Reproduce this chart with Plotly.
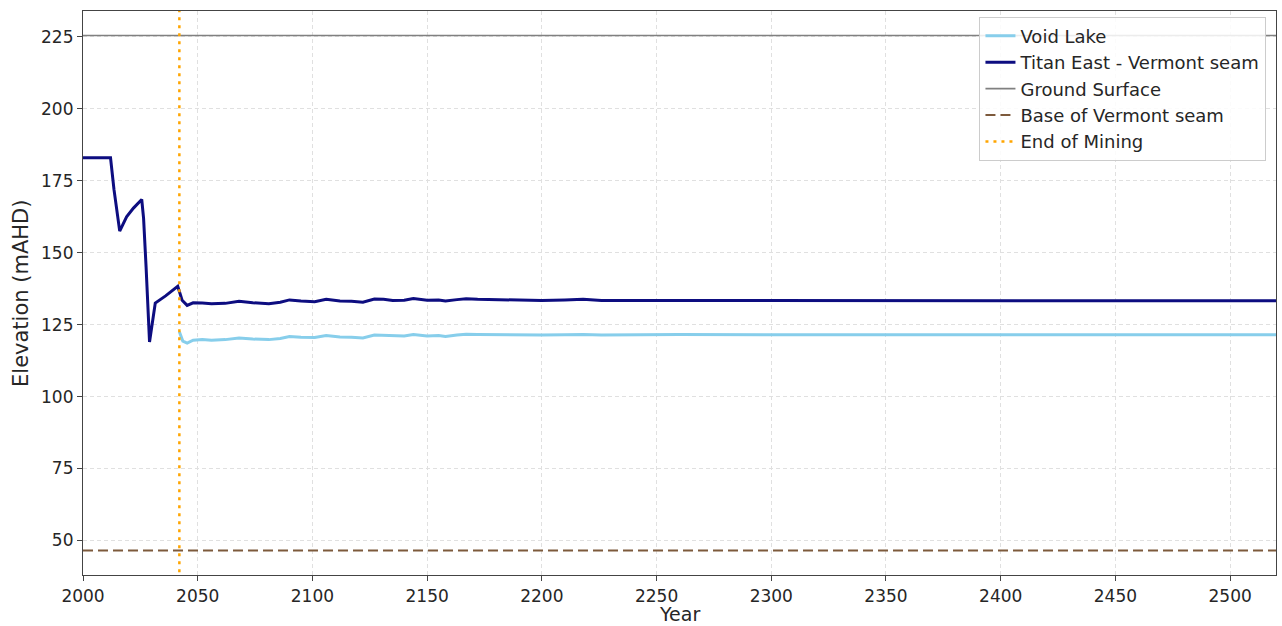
import plotly.graph_objects as go

# ---- data ----
titan_years = [2000, 2012, 2013.5, 2016, 2019, 2022, 2025.6, 2026.4, 2027.5, 2029, 2031.5, 2036, 2041.3,
               2043.2, 2045.4, 2048, 2052, 2056, 2062, 2068, 2074, 2081, 2086, 2090, 2095, 2101, 2106,
               2112, 2117, 2122, 2127, 2131, 2135, 2140, 2144, 2150, 2155, 2158, 2163, 2167, 2172, 2180,
               2190, 2200, 2210, 2218, 2226, 2240, 2260, 2300, 2350, 2400, 2450, 2500, 2520]
titan_vals = [183, 183, 172, 157.5, 162.5, 165.5, 168.5, 162, 145, 119, 132.5, 135, 138.3,
              133.5, 131.7, 132.6, 132.5, 132.3, 132.4, 133.1, 132.6, 132.3, 132.8, 133.6, 133.2, 133.0, 133.8,
              133.2, 133.1, 132.8, 133.9, 133.8, 133.4, 133.5, 134.1, 133.5, 133.6, 133.2, 133.7, 134.0, 133.8, 133.7,
              133.5, 133.4, 133.6, 133.8, 133.4, 133.4, 133.5, 133.4, 133.3, 133.3, 133.3, 133.3, 133.3]

void_years = [2042, 2043.5, 2045.4, 2048, 2052, 2056, 2062, 2068, 2074, 2081, 2086, 2090, 2095, 2101, 2106,
              2112, 2117, 2122, 2127, 2131, 2135, 2140, 2144, 2150, 2155, 2158, 2163, 2167, 2172, 2180,
              2190, 2200, 2210, 2218, 2226, 2240, 2260, 2300, 2350, 2400, 2450, 2500, 2520]
void_vals = [122.5, 119.3, 118.6, 119.6, 119.8, 119.6, 119.8, 120.4, 120.0, 119.8, 120.2, 120.9, 120.6, 120.5, 121.2,
             120.7, 120.6, 120.4, 121.4, 121.3, 121.0, 121.1, 121.6, 121.1, 121.2, 120.9, 121.4, 121.7, 121.6, 121.5,
             121.4, 121.4, 121.5, 121.6, 121.4, 121.5, 121.6, 121.5, 121.5, 121.5, 121.5, 121.5, 121.5]

ground_surface = 225.5
base_vermont = 46.5
end_of_mining = 2042

x_range = [2000, 2520]
y_range = [38, 234]

x_ticks = list(range(2000, 2501, 50))
y_ticks = list(range(50, 226, 25))

# ---- figure ----
fig = go.Figure()
fig.add_trace(go.Scatter(x=void_years, y=void_vals, mode="lines", name="Void Lake",
                         line=dict(color="#87CEEB", width=3)))
fig.add_trace(go.Scatter(x=titan_years, y=titan_vals, mode="lines", name="Titan East - Vermont seam",
                         line=dict(color="#0d0d80", width=3)))
fig.add_trace(go.Scatter(x=x_range, y=[ground_surface, ground_surface], mode="lines", name="Ground Surface",
                         line=dict(color="#808080", width=1.6)))
fig.add_trace(go.Scatter(x=x_range, y=[base_vermont, base_vermont], mode="lines", name="Base of Vermont seam",
                         line=dict(color="#7d5a3c", width=2, dash="10px,5px")))
fig.add_trace(go.Scatter(x=[end_of_mining, end_of_mining], y=[0, 300], mode="lines", name="End of Mining",
                         line=dict(color="#FFA500", width=2.5, dash="3px,5px")))

axis_common = dict(showline=True, linecolor="#444", linewidth=1.2, mirror=True,
                   showgrid=True, gridcolor="#e0e0e0", griddash="4px,3px", gridwidth=1,
                   ticks="outside", ticklen=5, tickcolor="#444",
                   tickfont=dict(family="DejaVu Sans", size=17, color="#262626"),
                   zeroline=False, automargin=False)

fig.update_xaxes(range=x_range, tickvals=x_ticks, **axis_common)
fig.update_yaxes(range=y_range, tickvals=y_ticks, **axis_common)

fig.update_layout(
    width=1282, height=626,
    margin=dict(l=83, r=6, t=11, b=51),
    plot_bgcolor="white", paper_bgcolor="white",
    font=dict(family="DejaVu Sans", color="#262626"),
    legend=dict(x=0.992, y=0.99, xanchor="right", yanchor="top",
                bgcolor="rgba(255,255,255,0.85)", bordercolor="#cccccc", borderwidth=1,
                font=dict(family="DejaVu Sans", size=18, color="#262626"),
                itemwidth=30, tracegroupgap=0),
    showlegend=True,
    annotations=[
        dict(text="Year", xref="paper", yref="paper", x=0.5, y=-0.0904,
             xanchor="center", yanchor="bottom", showarrow=False, borderpad=0,
             font=dict(family="DejaVu Sans", size=19, color="#262626")),
        dict(text="Elevation (mAHD)", xref="paper", yref="paper", x=-0.052, y=0.5,
             xanchor="center", yanchor="middle", textangle=-90, showarrow=False,
             font=dict(family="DejaVu Sans", size=21, color="#262626")),
    ],
)

fig.write_html("out.html")
